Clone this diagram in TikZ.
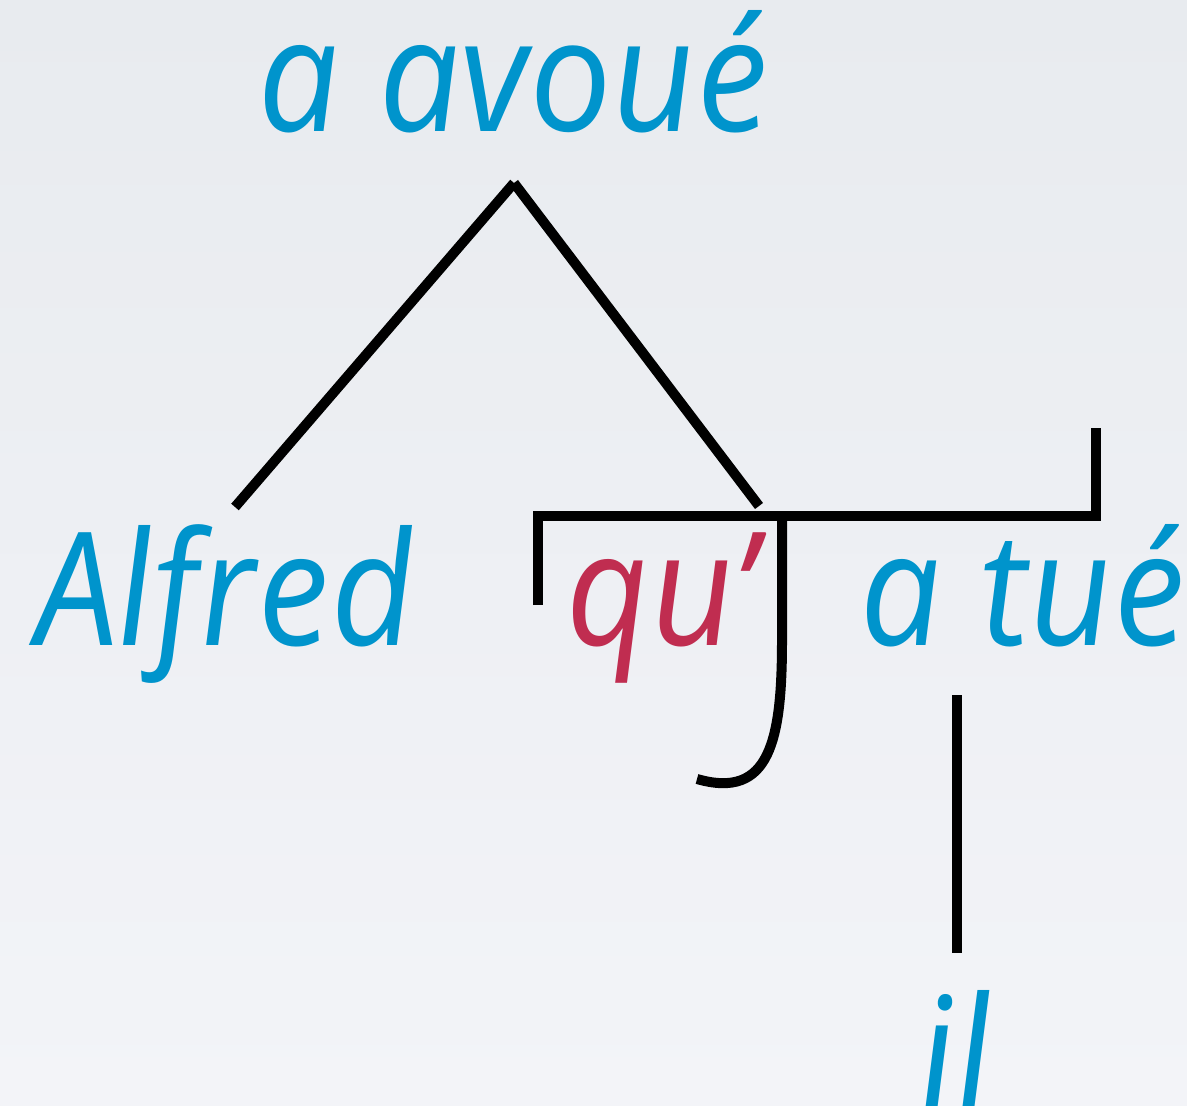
\documentclass[tikz,border=0pt]{standalone}
\usepackage{fontspec}
\setmainfont{Open Sans}[ItalicFeatures={FakeSlant=-0.07,FakeStretch=0.93}]
\usetikzlibrary{positioning}
\definecolor{wordblue}{RGB}{0,148,204}
\definecolor{transred}{RGB}{192,45,80}
\definecolor{bgtop}{RGB}{232,235,239}
\definecolor{bgbottom}{RGB}{243,244,248}

\begin{document}
\begin{tikzpicture}[x=0.5pt, y=-0.5pt,
    word/.style={font=\fontsize{79}{86}\selectfont\itshape, text=wordblue,
                 inner sep=0pt, anchor=base west},
    translator/.style={word, text=transred},
    stem/.style={line width=5pt, black}]
  \fill[top color=bgtop, bottom color=bgbottom] (0,0) rectangle (1187,1106);
  \useasboundingbox (0,0) rectangle (1187,1106);

  % words
  \node[word]       (avoue)  at (260,132)  {a avoué};
  \node[word]       (alfred) at (37,645)   {Alfred};
  \node[translator] (qu)     at (568,645)  {qu’};
  \node[word]       (atue)   at (862,645)  {a tué};
  \node[word]       (il)     at (921,1110) {il};

  % ends of the stems
  \coordinate (apex)       at (514,183);
  \coordinate (alfred-top) at (235,507);
  \coordinate (trans-top)  at (759,506);
  \coordinate (atue-foot)  at (957,695);
  \coordinate (il-top)     at (957,953);

  \draw[stem] (apex) -- (alfred-top);
  \draw[stem] (apex) -- (trans-top);
  \draw[stem] (atue-foot) -- (il-top);

  % translation sign
  \draw[stem] (538,605) |- (1096,516) -- (1096,428);
  \draw[stem] (782,516) -- (782,640)
              .. controls (782,740) and (770,800) .. (697,779);
\end{tikzpicture}
\end{document}
